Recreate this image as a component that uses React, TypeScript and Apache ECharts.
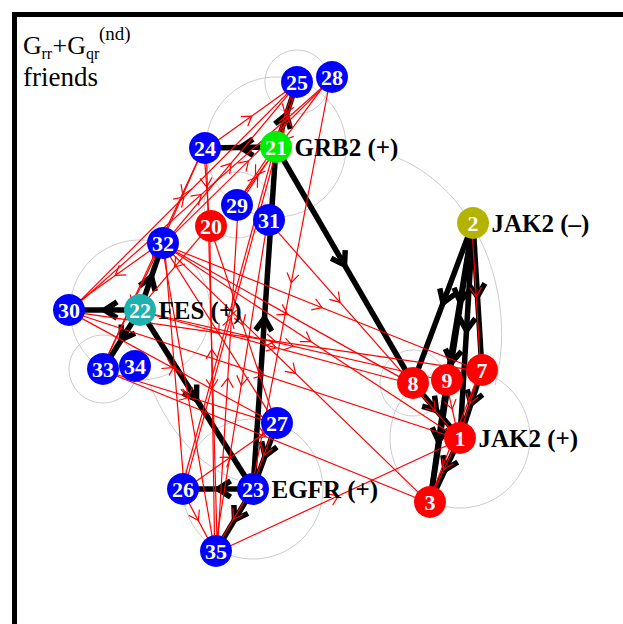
import React, { useEffect, useRef } from "react";
import * as echarts from "echarts";

// ---- nodes ----
const nodeIds = ["1", "2", "3", "7", "8", "9", "20", "21", "22", "23", "24", "25", "26", "27", "28", "29", "30", "31", "32", "33", "34", "35"];
const nodeX = [460, 473, 430, 482, 413, 447, 211, 276, 140, 253, 205, 297, 183, 277, 332, 237, 69, 269, 163, 103, 135, 216];
const nodeY = [438, 223, 502, 370, 383, 380, 226, 147, 310, 489, 148, 82, 489, 423, 77, 205, 310, 220, 243, 369, 366, 551];
const nodeColors = ["#ff0000", "#b3b300", "#ff0000", "#ff0000", "#ff0000", "#ff0000", "#ff0000", "#00ee00", "#1fb0b0", "#0000ff", "#0000ff", "#0000ff", "#0000ff", "#0000ff", "#0000ff", "#0000ff", "#0000ff", "#0000ff", "#0000ff", "#0000ff", "#0000ff", "#0000ff"];

// ---- hub names ----
const hubIds = ["21", "22", "23", "2", "1"];
const hubNames = ["GRB2 (+)", "FES (+)", "EGFR (+)", "JAK2 (–)", "JAK2 (+)"];

// ---- friend circles (node, radius) ----
const circleNodes = ["25", "21", "29", "22", "33", "8", "1", "23"];
const circleRadii = [32, 70, 33, 70, 34, 33, 70, 70];

// ---- extra friend arcs (cubic curves) ----
const arcStart = [[398, 158], [150, 384]];
const arcCtrl1 = [[480, 192], [168, 430]];
const arcCtrl2 = [[518, 300], [200, 468]];
const arcEnd = [[495, 385], [238, 480]];

// ---- edges ----
const blackEdges = [
  ["21", "24"], ["21", "25"], ["21", "8"], ["23", "21"], ["27", "23"],
  ["22", "30"], ["22", "32"], ["22", "33"], ["22", "23"], ["23", "26"], ["23", "35"],
  ["2", "8"], ["2", "9"], ["2", "7"], ["2", "1"], ["2", "3"],
  ["8", "1"], ["7", "1"], ["1", "3"], ["9", "3"],
];
const redEdges = [
  ["24", "25"], ["32", "25"], ["32", "28"], ["30", "25"], ["30", "28"], ["24", "32"], ["24", "20"], ["24", "33"],
  ["21", "25"], ["25", "21"], ["21", "29"], ["29", "21"], ["21", "26"], ["26", "21"], ["28", "29"], ["28", "23"],
  ["32", "7"], ["32", "8"], ["32", "1"], ["32", "27"], ["32", "3"], ["32", "33"], ["32", "30"], ["32", "35"],
  ["30", "7"], ["30", "1"], ["30", "27"],
  ["22", "9"], ["22", "8"],
  ["20", "22"], ["20", "27"], ["20", "35"],
  ["31", "8"], ["31", "35"],
  ["33", "27"], ["33", "3"],
  ["35", "1"], ["35", "29"], ["35", "24"],
  ["26", "27"], ["26", "35"], ["26", "32"],
  ["27", "23"], ["23", "35"],
  ["2", "7"], ["7", "1"], ["1", "3"], ["8", "1"], ["9", "1"], ["7", "3"],
];

const SERIF = "'Liberation Serif', 'DejaVu Serif', serif";

function idx(id: string) {
  return nodeIds.indexOf(id);
}

function edgeRows(list: string[][]) {
  return list.map(([a, b]) => {
    const i = idx(a), j = idx(b);
    return [nodeX[i], nodeY[i], nodeX[j], nodeY[j]];
  });
}

function makeEdgeRender(color: string, width: number, barb: number, offset: number) {
  return (params: any, api: any) => {
    const p1 = api.coord([api.value(0), api.value(1)]);
    const p2 = api.coord([api.value(2), api.value(3)]);
    const dx = p2[0] - p1[0], dy = p2[1] - p1[1];
    const len = Math.sqrt(dx * dx + dy * dy) || 1;
    const ux = dx / len, uy = dy / len;
    const nx = -uy, ny = ux;
    const a1 = [p1[0] + nx * offset, p1[1] + ny * offset];
    const a2 = [p2[0] + nx * offset, p2[1] + ny * offset];
    const mx = (a1[0] + a2[0]) / 2, my = (a1[1] + a2[1]) / 2;
    const ang = (33 * Math.PI) / 180;
    const c = Math.cos(ang), s = Math.sin(ang);
    const b1 = [mx - barb * (c * ux + s * nx), my - barb * (c * uy + s * ny)];
    const b2 = [mx - barb * (c * ux - s * nx), my - barb * (c * uy - s * ny)];
    return {
      type: "group",
      children: [
        { type: "line", shape: { x1: a1[0], y1: a1[1], x2: a2[0], y2: a2[1] }, style: { stroke: color, lineWidth: width } },
        { type: "polyline", shape: { points: [b1, [mx, my], b2] }, style: { stroke: color, lineWidth: width, fill: null } },
      ],
    };
  };
}

export default function App() {
  const ref = useRef<HTMLDivElement>(null);
  useEffect(() => {
    if (!ref.current) return;
    const chart = echarts.init(ref.current, null, { renderer: "svg" });

    const circleRows = circleNodes.map((id, k) => [nodeX[idx(id)], nodeY[idx(id)], circleRadii[k]]);
    const arcRows = arcStart.map((s, k) => [s[0], s[1], arcCtrl1[k][0], arcCtrl1[k][1], arcCtrl2[k][0], arcCtrl2[k][1], arcEnd[k][0], arcEnd[k][1]]);
    const nodeRows = nodeIds.map((id, i) => ({ value: [nodeX[i], nodeY[i], id], itemStyle: { color: nodeColors[i], opacity: 1 } }));
    const hubRows = hubIds.map((id, k) => ({
      value: [nodeX[idx(id)], nodeY[idx(id)], hubNames[k]],
      itemStyle: { color: nodeColors[idx(id)], opacity: 1 },
    }));

    const titleFont = (size: number) => `${size}px ${SERIF}`;
    const graphic = [
      { type: "rect", shape: { x: 14.5, y: 14.5, width: 700, height: 700 }, style: { stroke: "#000", lineWidth: 5, fill: null }, z: 100 },
      { type: "text", x: 23, y: 45, style: { text: "G", font: titleFont(26), fill: "#000", verticalAlign: "middle" }, z: 100 },
      { type: "text", x: 41.5, y: 53, style: { text: "rr", font: titleFont(16), fill: "#000", verticalAlign: "middle" }, z: 100 },
      { type: "text", x: 52.5, y: 45, style: { text: "+G", font: titleFont(26), fill: "#000", verticalAlign: "middle" }, z: 100 },
      { type: "text", x: 86, y: 53, style: { text: "qr", font: titleFont(16), fill: "#000", verticalAlign: "middle" }, z: 100 },
      { type: "text", x: 99, y: 33, style: { text: "(nd)", font: titleFont(19), fill: "#000", verticalAlign: "middle" }, z: 100 },
      { type: "text", x: 23, y: 77, style: { text: "friends", font: titleFont(27), fill: "#000", verticalAlign: "middle" }, z: 100 },
    ];

    chart.setOption({
      animation: false,
      grid: { left: 0, top: 0, right: 0, bottom: 0 },
      xAxis: { type: "value", min: 0, max: 623, show: false },
      yAxis: { type: "value", min: 0, max: 624, inverse: true, show: false },
      graphic,
      series: [
        {
          type: "custom",
          z: 1,
          data: circleRows,
          encode: { x: 0, y: 1 },
          renderItem: (params: any, api: any) => {
            const p = api.coord([api.value(0), api.value(1)]);
            const r = api.size([api.value(2), 0])[0];
            return { type: "circle", shape: { cx: p[0], cy: p[1], r }, style: { stroke: "#cccccc", lineWidth: 1, fill: null } };
          },
        },
        {
          type: "custom",
          z: 1,
          data: arcRows,
          encode: { x: 0, y: 1 },
          renderItem: (params: any, api: any) => {
            const a = api.coord([api.value(0), api.value(1)]);
            const b = api.coord([api.value(2), api.value(3)]);
            const c = api.coord([api.value(4), api.value(5)]);
            const d = api.coord([api.value(6), api.value(7)]);
            return {
              type: "bezierCurve",
              shape: { x1: a[0], y1: a[1], cpx1: b[0], cpy1: b[1], cpx2: c[0], cpy2: c[1], x2: d[0], y2: d[1] },
              style: { stroke: "#cccccc", lineWidth: 1, fill: null },
            };
          },
        },
        {
          type: "custom",
          z: 2,
          data: edgeRows(blackEdges),
          encode: { x: [0, 2], y: [1, 3] },
          renderItem: makeEdgeRender("#000000", 5.5, 15, 0),
        },
        {
          type: "custom",
          z: 3,
          data: edgeRows(redEdges),
          encode: { x: [0, 2], y: [1, 3] },
          renderItem: makeEdgeRender("#ff0000", 1.2, 11, 1.3),
        },
        {
          type: "scatter",
          z: 5,
          symbol: "circle",
          symbolSize: 32,
          itemStyle: { opacity: 1 },
          data: nodeRows,
          label: {
            show: true,
            position: "inside",
            formatter: (p: any) => p.value[2],
            color: "#fff",
            fontFamily: SERIF,
            fontWeight: "bold",
            fontSize: 22,
          },
        },
        {
          type: "scatter",
          z: 6,
          symbol: "circle",
          symbolSize: 1,
          itemStyle: { opacity: 1 },
          data: hubRows,
          label: {
            show: true,
            position: "right",
            distance: 18,
            formatter: (p: any) => p.value[2],
            color: "#000",
            fontFamily: SERIF,
            fontWeight: "bold",
            fontSize: 25,
          },
        },
      ],
    });
    return () => chart.dispose();
  }, []);
  return <div ref={ref} style={{ position: "fixed", left: 0, top: 0, width: 623, height: 624, background: "#fff" }} />;
}
